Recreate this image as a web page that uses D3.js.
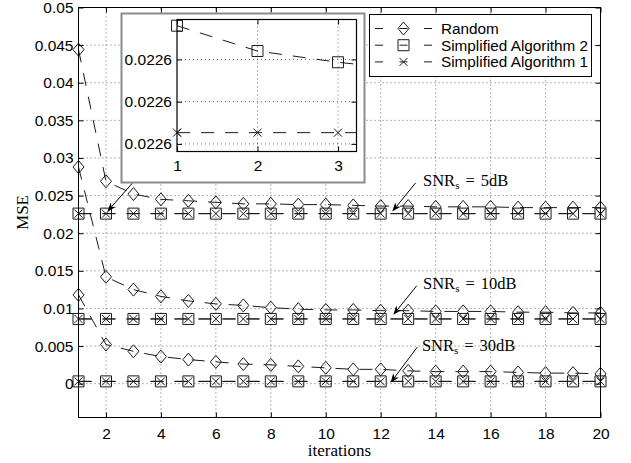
<!DOCTYPE html>
<html>
<head>
<meta charset="utf-8">
<script src="https://cdn.jsdelivr.net/npm/d3@7"></script>
<style>
  body { margin: 0; background: #fff; }
  svg { display: block; }
</style>
</head>
<body>
<svg width="631" height="463"></svg>
<script>
// data
const iterations = [1,2,3,4,5,6,7,8,9,10,11,12,13,14,15,16,17,18,19,20];

const random5  = [0.0444,0.0269,0.0252,0.0245,0.0243,0.0241,0.0239,0.0239,0.0238,0.0238,0.0237,0.0236,0.0236,0.0235,0.0235,0.0235,0.0234,0.0234,0.0234,0.0234];
const random10 = [0.0288,0.0142,0.0125,0.0116,0.0110,0.0106,0.0104,0.0101,0.0099,0.0098,0.0098,0.0097,0.0097,0.0096,0.0096,0.0096,0.0095,0.0095,0.0094,0.0094];
const random30 = [0.0118,0.0052,0.0043,0.0036,0.0032,0.0029,0.0026,0.0025,0.0023,0.0021,0.0019,0.0019,0.0017,0.0016,0.0016,0.0016,0.0015,0.0014,0.0014,0.0013];

const alg2_5  = [0.0226027,0.0226018,0.0226014,0.0226011,0.0226010,0.0226010,0.0226010,0.0226010,0.0226010,0.0226010,0.0226010,0.0226010,0.0226010,0.0226010,0.0226010,0.0226010,0.0226010,0.0226010,0.0226010,0.0226010];
const alg1_5  = [0.0225989,0.0225989,0.0225989,0.0225989,0.0225989,0.0225989,0.0225989,0.0225989,0.0225989,0.0225989,0.0225989,0.0225989,0.0225989,0.0225989,0.0225989,0.0225989,0.0225989,0.0225989,0.0225989,0.0225989];
const alg2_10 = [0.0086,0.0086,0.0086,0.0086,0.0086,0.0086,0.0086,0.0086,0.0086,0.0086,0.0086,0.0086,0.0086,0.0086,0.0086,0.0086,0.0086,0.0086,0.0086,0.0086];
const alg1_10 = [0.0086,0.0086,0.0086,0.0086,0.0086,0.0086,0.0086,0.0086,0.0086,0.0086,0.0086,0.0086,0.0086,0.0086,0.0086,0.0086,0.0086,0.0086,0.0086,0.0086];
const alg2_30 = [0.0003,0.0003,0.0003,0.0003,0.0003,0.0003,0.0003,0.0003,0.0003,0.0003,0.0003,0.0003,0.0003,0.0003,0.0003,0.0003,0.0003,0.0003,0.0003,0.0003];
const alg1_30 = [0.0003,0.0003,0.0003,0.0003,0.0003,0.0003,0.0003,0.0003,0.0003,0.0003,0.0003,0.0003,0.0003,0.0003,0.0003,0.0003,0.0003,0.0003,0.0003,0.0003];

const seriesNames = ['Random', 'Simplified Algorithm 2', 'Simplified Algorithm 1'];
const xTicks = [2,4,6,8,10,12,14,16,18,20];
const yTicks = [0,0.005,0.01,0.015,0.02,0.025,0.03,0.035,0.04,0.045,0.05];
const insetXTicks = [1,2,3];
const insetYTicks = [0.0225985, 0.0226, 0.0226015];

// annotations: [text, tip, tail, label] in data units
const snrLabels = ['5dB', '10dB', '30dB'];
const snrTips   = [[12.42,0.02287],[12.46,0.00916],[12.36,0.00013]];
const snrTails  = [[13.27,0.02668],[13.31,0.01301],[13.33,0.00485]];
const snrText   = [[13.54,0.02628],[13.54,0.01262],[13.50,0.00438]];
const insetArrowTip  = [2.05, 0.02288];
const insetArrowTail = [2.96, 0.02665];

const sans = '"Liberation Sans", Arial, sans-serif';
const serif = '"Liberation Serif", "Times New Roman", serif';
const ink = '#1a1a1a';

const svg = d3.select('svg');
svg.append('rect').attr('width', 631).attr('height', 463).attr('fill', '#fff');

const x = d3.scaleLinear().domain([1, 20]).range([78.5, 600.5]);
const y = d3.scaleLinear().domain([-0.0045, 0.05]).range([417.5, 7.5]);

const groups = [
  {random: random5,  alg2: alg2_5,  alg1: alg1_5},
  {random: random10, alg2: alg2_10, alg1: alg1_10},
  {random: random30, alg2: alg2_30, alg1: alg1_30}
];

const markers = {
  random: 'M0,-6.5L5.5,0L0,6.5L-5.5,0Z',
  alg2: 'M-5.5,-5.5h11v11h-11Z',
  alg1: 'M-4,-4L4,4M-4,4L4,-4'
};
const keys = ['random', 'alg2', 'alg1'];

// grid
const grid = svg.append('g').attr('stroke', '#444').attr('stroke-width', 0.8).attr('stroke-dasharray', '1,3');
grid.selectAll('.gx').data(xTicks).join('line')
  .attr('x1', d => x(d)).attr('x2', d => x(d)).attr('y1', y.range()[0]).attr('y2', y.range()[1]);
grid.selectAll('.gy').data(yTicks).join('line')
  .attr('y1', d => y(d)).attr('y2', d => y(d)).attr('x1', x.range()[0]).attr('x2', x.range()[1]);

function drawSeries(g, xs, ys, vals, key) {
  const line = d3.line().x((d, i) => xs(iterations[i])).y(d => ys(d));
  g.append('path').datum(vals)
    .attr('d', line).attr('fill', 'none')
    .attr('stroke', ink).attr('stroke-width', 1)
    .attr('stroke-dasharray', '13,11');
  g.selectAll(null).data(vals).join('path')
    .attr('transform', (d, i) => `translate(${xs(iterations[i])},${ys(d)})`)
    .attr('d', markers[key]).attr('fill', 'none')
    .attr('stroke', ink).attr('stroke-width', 1);
}

const plot = svg.append('g');
groups.forEach(grp => keys.forEach(k => drawSeries(plot, x, y, grp[k], k)));

// axes with inward ticks
const fmtY = d => d === 0 ? '0' : String(+d.toFixed(3));
function styleAxis(g) {
  g.select('.domain').remove();
  g.selectAll('line').attr('stroke', '#000');
  g.selectAll('text').attr('font-family', sans).attr('font-size', 15.5).attr('fill', '#000');
}
svg.append('g').attr('transform', `translate(0,${y.range()[0]})`)
  .call(d3.axisBottom(x).tickValues(xTicks).tickSize(-5).tickPadding(10).tickFormat(d3.format('d'))).call(styleAxis);
svg.append('g').attr('transform', `translate(0,${y.range()[1]})`)
  .call(d3.axisTop(x).tickValues(xTicks).tickSize(-5).tickFormat('')).call(styleAxis);
svg.append('g').attr('transform', `translate(${x.range()[0]},0)`)
  .call(d3.axisLeft(y).tickValues(yTicks).tickSize(-5).tickPadding(5).tickFormat(fmtY)).call(styleAxis);
svg.append('g').attr('transform', `translate(${x.range()[1]},0)`)
  .call(d3.axisRight(y).tickValues(yTicks).tickSize(-5).tickFormat('')).call(styleAxis);
svg.append('rect')
  .attr('x', x.range()[0]).attr('y', y.range()[1])
  .attr('width', x.range()[1] - x.range()[0]).attr('height', y.range()[0] - y.range()[1])
  .attr('fill', 'none').attr('stroke', '#000').attr('stroke-width', 1);

// axis labels
svg.append('text').text('iterations')
  .attr('x', (x.range()[0] + x.range()[1]) / 2).attr('y', 456)
  .attr('text-anchor', 'middle').attr('font-family', serif).attr('font-size', 17);
svg.append('text').text('MSE')
  .attr('transform', `translate(28,${(y.range()[0] + y.range()[1]) / 2}) rotate(-90)`)
  .attr('text-anchor', 'middle').attr('font-family', serif).attr('font-size', 17);

// arrows
function arrow(px1, py1, px2, py2) {
  const a = Math.atan2(py2 - py1, px2 - px1);
  const len = 9, w = 3.5, notch = 2.5;
  const cos = Math.cos(a), sin = Math.sin(a);
  const bx = px2 - len * cos, by = py2 - len * sin;
  svg.append('line').attr('x1', px1).attr('y1', py1)
    .attr('x2', px2 - (len - notch) * cos).attr('y2', py2 - (len - notch) * sin)
    .attr('stroke', '#000').attr('stroke-width', 1);
  const pts = [
    [px2, py2],
    [bx - w * sin, by + w * cos],
    [px2 - (len - notch) * cos, py2 - (len - notch) * sin],
    [bx + w * sin, by - w * cos]
  ];
  svg.append('path').attr('d', 'M' + pts.join('L') + 'Z').attr('fill', '#000');
}

snrLabels.forEach((lab, i) => {
  arrow(x(snrTails[i][0]), y(snrTails[i][1]), x(snrTips[i][0]), y(snrTips[i][1]));
  const t = svg.append('text')
    .attr('x', x(snrText[i][0])).attr('y', y(snrText[i][1]))
    .attr('font-family', serif).attr('font-size', 16.5).attr('fill', '#000');
  t.append('tspan').text('SNR');
  t.append('tspan').text('s').attr('font-size', 11).attr('dy', 3);
  t.append('tspan').text('=').attr('dy', -3).attr('dx', 6);
  t.append('tspan').text(lab).attr('dx', 6);
});
arrow(x(insetArrowTail[0]), y(insetArrowTail[1]), x(insetArrowTip[0]), y(insetArrowTip[1]));

// inset
svg.append('rect').attr('x', 121.5).attr('y', 13.5).attr('width', 243).attr('height', 169)
  .attr('fill', '#fff').attr('stroke', '#8c8c8c').attr('stroke-width', 2);

const ix = d3.scaleLinear().domain([1, 3.23]).range([177, 356.5]);
const iy = d3.scaleLinear().domain([0.02259823, 0.02260292]).range([151.5, 19.5]);

const igrid = svg.append('g').attr('stroke', '#444').attr('stroke-width', 0.8).attr('stroke-dasharray', '1,3');
igrid.selectAll('.gx').data(insetXTicks.slice(1)).join('line')
  .attr('x1', d => ix(d)).attr('x2', d => ix(d)).attr('y1', iy.range()[0]).attr('y2', iy.range()[1]);
igrid.selectAll('.gy').data(insetYTicks).join('line')
  .attr('y1', d => iy(d)).attr('y2', d => iy(d)).attr('x1', ix.range()[0]).attr('x2', ix.range()[1]);

svg.append('clipPath').attr('id', 'insetClip').append('rect')
  .attr('x', ix.range()[0]).attr('y', iy.range()[1])
  .attr('width', ix.range()[1] - ix.range()[0]).attr('height', iy.range()[0] - iy.range()[1]);
const inset = svg.append('g').attr('clip-path', 'url(#insetClip)');
['alg2', 'alg1'].forEach(k => drawSeries(inset, ix, iy, groups[0][k], k));
// markers on the left edge are not clipped in the original
const insetMarks = svg.append('g');
['alg2', 'alg1'].forEach(k => {
  insetMarks.append('path')
    .attr('transform', `translate(${ix(iterations[0])},${iy(groups[0][k][0])})`)
    .attr('d', markers[k]).attr('fill', 'none').attr('stroke', ink).attr('stroke-width', 1);
});

svg.append('g').attr('transform', `translate(0,${iy.range()[0]})`)
  .call(d3.axisBottom(ix).tickValues(insetXTicks).tickSize(-5).tickPadding(8).tickFormat(d3.format('d'))).call(styleAxis);
svg.append('g').attr('transform', `translate(0,${iy.range()[1]})`)
  .call(d3.axisTop(ix).tickValues(insetXTicks).tickSize(-5).tickFormat('')).call(styleAxis);
svg.append('g').attr('transform', `translate(${ix.range()[0]},0)`)
  .call(d3.axisLeft(iy).tickValues(insetYTicks).tickSize(-5).tickPadding(5).tickFormat(d3.format('.4f'))).call(styleAxis);
svg.append('g').attr('transform', `translate(${ix.range()[1]},0)`)
  .call(d3.axisRight(iy).tickValues(insetYTicks).tickSize(-5).tickFormat('')).call(styleAxis);
svg.append('rect')
  .attr('x', ix.range()[0]).attr('y', iy.range()[1])
  .attr('width', ix.range()[1] - ix.range()[0]).attr('height', iy.range()[0] - iy.range()[1])
  .attr('fill', 'none').attr('stroke', '#000').attr('stroke-width', 1.2);

// legend
const legend = svg.append('g');
legend.append('rect').attr('x', 369.5).attr('y', 14.5).attr('width', 222).attr('height', 62)
  .attr('fill', '#fff').attr('stroke', '#000').attr('stroke-width', 1);
seriesNames.forEach((name, i) => {
  const ry = 28.5 + i * 16.7;
  legend.append('line').attr('x1', 375).attr('x2', 432).attr('y1', ry).attr('y2', ry)
    .attr('stroke', ink).attr('stroke-width', 1).attr('stroke-dasharray', '8,16.5');
  legend.append('path').attr('transform', `translate(403.5,${ry})`)
    .attr('d', markers[keys[i]]).attr('fill', 'none').attr('stroke', ink).attr('stroke-width', 1);
  legend.append('text').text(name).attr('x', 441).attr('y', ry).attr('dy', '0.35em')
    .attr('font-family', sans).attr('font-size', 15.3).attr('fill', '#000');
});
</script>
</body>
</html>
